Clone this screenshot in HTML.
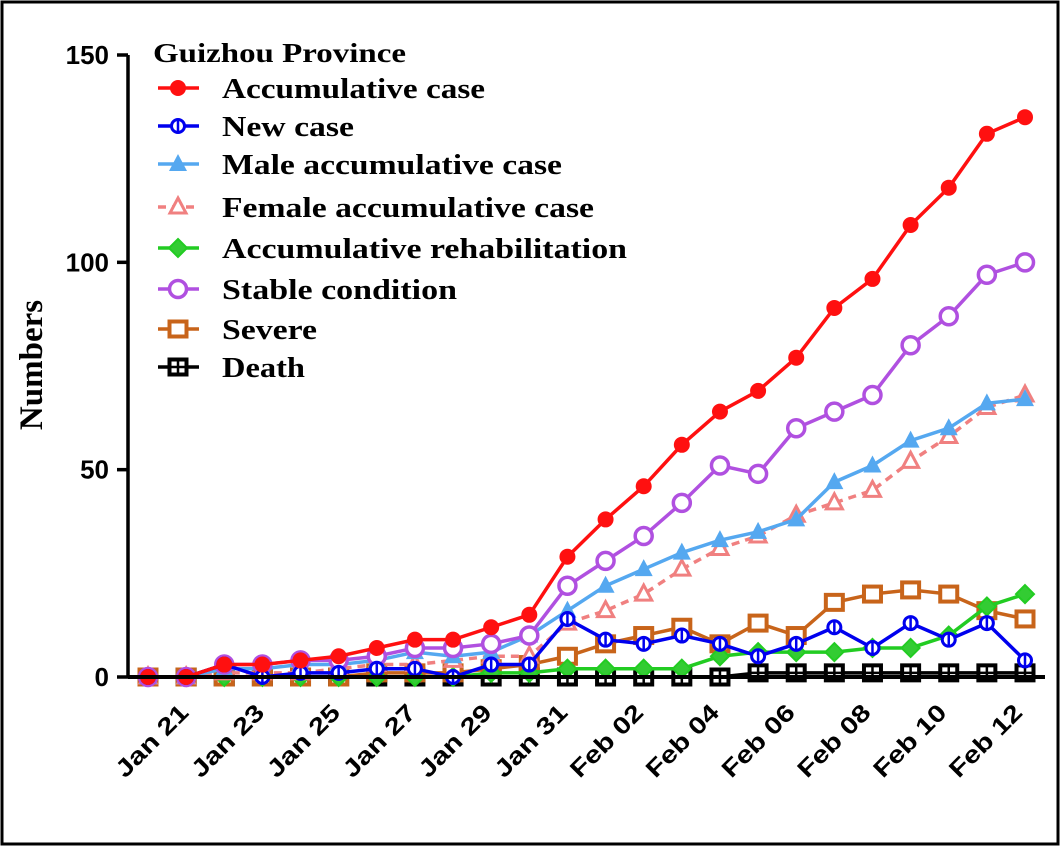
<!DOCTYPE html>
<html><head><meta charset="utf-8"><style>
html,body{margin:0;padding:0;background:#fff;}
svg{display:block;}
</style></head><body>
<svg id="chart" width="1060" height="846" xmlns="http://www.w3.org/2000/svg">
<rect x="2" y="2" width="1056" height="842" fill="#fff" stroke="#000" stroke-width="3"/>
<g id="plot"></g>
</svg>
<script>
const xLabels=["Jan 21","Jan 23","Jan 25","Jan 27","Jan 29","Jan 31","Feb 02","Feb 04","Feb 06","Feb 08","Feb 10","Feb 12"];
const yTicks=[0,50,100,150];
const accum=[0,0,3,3,4,5,7,9,9,12,15,29,38,46,56,64,69,77,89,96,109,118,131,135];
const newCase=[0,0,3,0,1,1,2,2,0,3,3,14,9,8,10,8,5,8,12,7,13,9,13,4];
const male=[0,0,2,2,3,3,4,6,5,6,10,16,22,26,30,33,35,38,47,51,57,60,66,67];
const female=[0,0,1,1,1,2,3,3,4,5,5,13,16,20,26,31,34,39,42,45,52,58,65,68];
const rehab=[0,0,0,0,0,0,0,0,0,1,1,2,2,2,2,5,6,6,6,7,7,10,17,20];
const stable=[0,0,3,3,4,4,5,7,7,8,10,22,28,34,42,51,49,60,64,68,80,87,97,100];
const severe=[0,0,0,0,0,0,1,1,1,2,3,5,8,10,12,8,13,10,18,20,21,20,16,14];
const death=[0,0,0,0,0,0,0,0,0,0,0,0,0,0,0,0,1,1,1,1,1,1,1,1];

const NS="http://www.w3.org/2000/svg";
const g=document.getElementById('plot');
const x0=148,x1=1025,y0=677,y150=55;
const xs=i=>x0+i*(x1-x0)/(accum.length-1);
const ys=v=>y0-(v/150)*(y0-y150);
const xl=k=>190+k*75.8;
function mk(t,a,p){const e=document.createElementNS(NS,t);for(const k in a)e.setAttribute(k,a[k]);(p||g).appendChild(e);return e;}

let ya=mk('line',{x1:128,y1:y150,x2:128,y2:y0,stroke:'#000','stroke-width':3.5});


yTicks.forEach(v=>{
  let t=mk('line',{x1:117,y1:ys(v),x2:128,y2:ys(v),stroke:'#000','stroke-width':3.5});
  
  
  let l=mk('text',{x:109,y:ys(v)+9,'text-anchor':'end','font-family':'Liberation Sans, sans-serif','font-weight':'bold','font-size':26});
  l.textContent=v;
  
  
});
let yt=mk('text',{x:0,y:0,transform:'translate(42,365) rotate(-90)','text-anchor':'middle','font-family':'Liberation Serif, serif','font-weight':'bold','font-size':33});
yt.textContent='Numbers';



xLabels.forEach((s,k)=>{
  let l=mk('text',{x:0,y:0,transform:`translate(${xl(k)},${y0+37}) rotate(-45)`,'text-anchor':'end','font-family':'Liberation Sans, sans-serif','font-weight':'bold','font-size':24,textLength:92,lengthAdjust:'spacingAndGlyphs'});
  l.textContent=s;
  
  
});

function marker(type,color,x,y,p){
  const grp=mk('g',{},p);
  if(type==='dot')mk('circle',{cx:x,cy:y,r:8,fill:color},grp);
  if(type==='ocirc'){mk('circle',{cx:x,cy:y,r:6.5,fill:'#fff',stroke:color,'stroke-width':3},grp);mk('line',{x1:x,y1:y-6,x2:x,y2:y+6,stroke:color,'stroke-width':2.5},grp);}
  if(type==='tri')mk('path',{d:`M${x} ${y-10}L${x+9} ${y+7}L${x-9} ${y+7}Z`,fill:color},grp);
  if(type==='otri')mk('path',{d:`M${x} ${y-9}L${x+8} ${y+6}L${x-8} ${y+6}Z`,fill:'#fff',stroke:color,'stroke-width':3},grp);
  if(type==='dia')mk('path',{d:`M${x} ${y-9}L${x+9} ${y}L${x} ${y+9}L${x-9} ${y}Z`,fill:'#3c3',stroke:color,'stroke-width':2},grp);
  if(type==='bigcirc')mk('circle',{cx:x,cy:y,r:8.5,fill:'#fff',stroke:color,'stroke-width':3.5},grp);
  if(type==='sq')mk('rect',{x:x-8.5,y:y-7.5,width:17,height:15,fill:'#fff',stroke:color,'stroke-width':4},grp);
  if(type==='bsq'){mk('rect',{x:x-8.5,y:y-7.5,width:17,height:15,fill:'#fff',stroke:color,'stroke-width':4},grp);mk('line',{x1:x-7,y1:y,x2:x+7,y2:y,stroke:color,'stroke-width':2.5},grp);mk('line',{x1:x,y1:y-6,x2:x,y2:y+6,stroke:color,'stroke-width':2.5},grp);}
  return grp;
}
const series=[
 {n:'death',d:death,c:'#000',m:'bsq',lbl:'Death',w:83},
 {n:'severe',d:severe,c:'#c8641a',m:'sq',lbl:'Severe',w:95},
 {n:'rehab',d:rehab,c:'#22cc22',m:'dia',lbl:'Accumulative rehabilitation',w:405},
 {n:'female',d:female,c:'#f08080',m:'otri',dash:'8,6',lbl:'Female accumulative case',w:372},
 {n:'male',d:male,c:'#55a8f0',m:'tri',lbl:'Male accumulative case',w:340},
 {n:'stable',d:stable,c:'#b050e0',m:'bigcirc',lbl:'Stable condition',w:235},
 {n:'new',d:newCase,c:'#0000ee',m:'ocirc',lbl:'New case',w:132},
 {n:'accum',d:accum,c:'#ff1010',m:'dot',lbl:'Accumulative case',w:263}
];
series.forEach(s=>{
  const sg=mk('g',{});
  
  
  const pl=mk('polyline',{points:s.d.map((v,i)=>xs(i)+','+ys(v)).join(' '),fill:'none',stroke:s.c,'stroke-width':3.5,'stroke-dasharray':s.dash||'none'},sg);
  
  
  s.d.forEach((v,i)=>{const m=marker(s.m,s.c,xs(i),ys(v),sg);
    
    });
});
let xa=mk('line',{x1:128,y1:y0,x2:1045,y2:y0,stroke:'#000','stroke-width':4});



const lg=mk('g',{});


let tt=mk('text',{x:153,y:62,'font-family':'Liberation Serif, serif','font-weight':'bold','font-size':27,textLength:253,lengthAdjust:'spacingAndGlyphs'},lg);
tt.textContent='Guizhou Province';


const rowsY=[88,126,164,207,248,289,329,367];
const order=[7,6,4,3,2,5,1,0];
order.forEach((si,r)=>{
  const s=series[si];const y=rowsY[r];
  const e=mk('g',{},lg);
  
  
  mk('line',{x1:158,y1:y,x2:199,y2:y,stroke:s.c,'stroke-width':3.5,'stroke-dasharray':s.dash||'none'},e);
  marker(s.m,s.c,178,y,e);
  const t=mk('text',{x:222,y:y+10,'font-family':'Liberation Serif, serif','font-weight':'bold','font-size':28,textLength:s.w,lengthAdjust:'spacingAndGlyphs'},e);
  t.textContent=s.lbl;
});
</script>
</body></html>
